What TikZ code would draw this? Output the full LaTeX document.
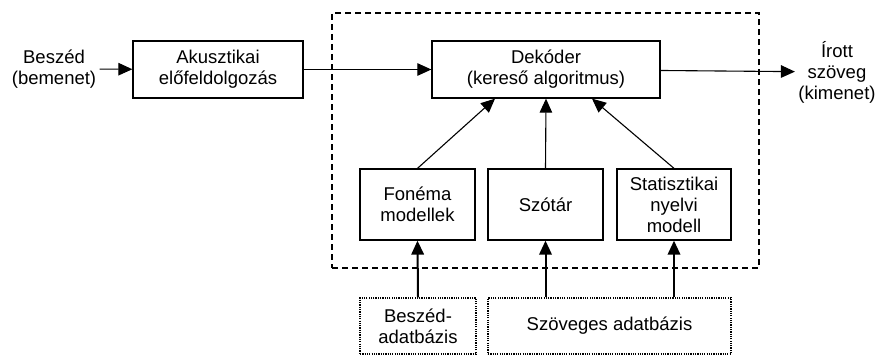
\documentclass[tikz,border=0pt]{standalone}
\usepackage{fontspec}
\setmainfont{Liberation Sans}
\usepackage{tikz}
\usetikzlibrary{arrows.meta}

\begin{document}
\begin{tikzpicture}[x=1pt, y=-1pt,
        font=\fontsize{18.5}{21}\selectfont,
        doboz/.style={shape=rectangle, draw=black, line width=1.3pt, inner sep=0pt, align=center},
        pontozott/.style={doboz, line width=1.2pt, dash pattern=on 1.2pt off 1.1pt},
        nyil/.style={line width=1.1pt, -{Triangle[length=14pt,width=12.5pt]}},
        vastag/.style={nyil, line width=2pt}]
            \useasboundingbox (0,0) rectangle (877,356);

            \node[draw=black, dash pattern=on 6pt off 4pt, line width=1.3pt, minimum width=427pt, minimum height=255pt] (keret) at (545.5, 140.5) {};

            \node[align=center] (besz) at (54, 69) {Beszéd\\(bemenet)};
            \node[doboz, minimum width=170pt, minimum height=57pt] (akusz) at (218, 69.5) {Akusztikai\\előfeldolgozás};
            \node[doboz, minimum width=228pt, minimum height=57pt] (dekoder) at (546, 69.5) {Dekóder\\(kereső algoritmus)};
            \node[align=center] (kimenet) at (837, 72) {Írott\\szöveg\\(kimenet)};

            \node[doboz, minimum width=115pt, minimum height=71pt] (fonema) at (417.5, 204.5) {Fonéma\\modellek};
            \node[doboz, minimum width=115pt, minimum height=71pt] (szotar) at (545.5, 204.5) {Szótár};
            \node[doboz, minimum width=114pt, minimum height=71pt] (stat) at (674, 204.5) {Statisztikai\\nyelvi\\modell};

            \node[pontozott, minimum width=116pt, minimum height=56pt] (bdb) at (418, 326) {Beszéd-\\adatbázis};
            \node[pontozott, minimum width=243pt, minimum height=56pt] (szdb) at (609.5, 326) {Szöveges adatbázis};

            \path[nyil] (besz) edge (akusz);
            \path[nyil] (akusz) edge (dekoder);
            \path[nyil] (dekoder) edge (kimenet);

            \path[nyil] (fonema.north) edge ([xshift=-51pt]dekoder.south);
            \path[nyil] (szotar.north) edge (dekoder.south);
            \path[nyil] (stat.north) edge ([xshift=46pt]dekoder.south);

            \path[vastag] (bdb.north) edge (fonema.south);
            \path[vastag] (szdb.north -| szotar.south) edge (szotar.south);
            \path[vastag] (szdb.north -| stat.south) edge (stat.south);

        \end{tikzpicture}
\end{document}
